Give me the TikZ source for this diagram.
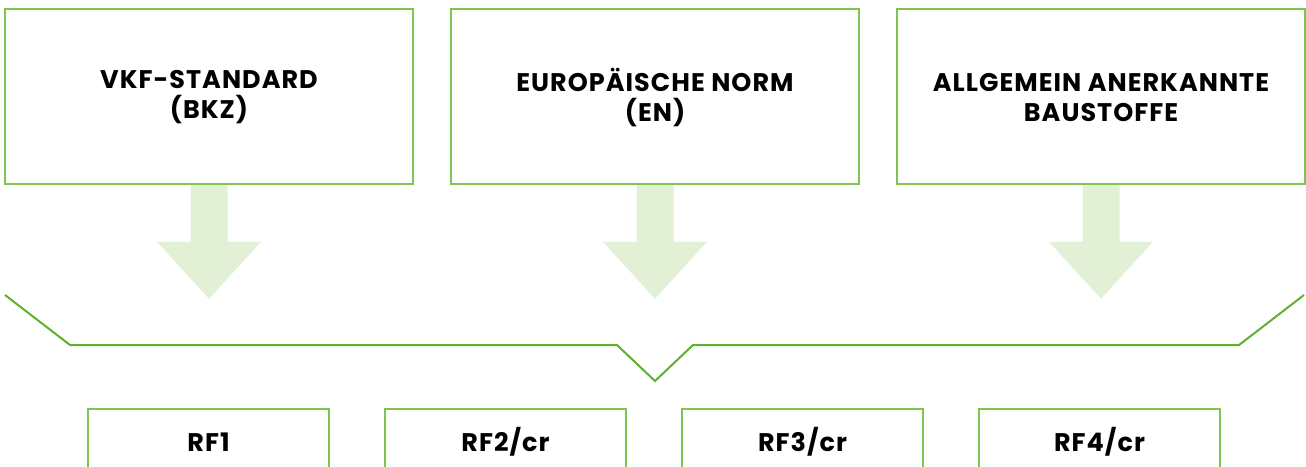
\documentclass[tikz,border=0pt]{standalone}
\usepackage{fontspec}
\setmainfont{Poppins}[LetterSpace=4]
\definecolor{boxgreen}{HTML}{7DC453}
\definecolor{linegreen}{HTML}{5DB12E}
\definecolor{arrowgreen}{HTML}{E2F0D5}
\begin{document}
\begin{tikzpicture}[x=1pt,y=-1pt,
  topbox/.style={draw=boxgreen,line width=1.2pt,minimum width=408pt,minimum height=175pt,inner sep=0pt},
  botbox/.style={draw=boxgreen,line width=1.2pt,minimum width=241pt,minimum height=64pt,inner sep=0pt},
  lbl/.style={font=\bfseries\fontsize{25.5}{30}\selectfont,align=center,text=black},
  bigarrow/.style={fill=arrowgreen},
  bracket/.style={draw=linegreen,line width=2pt,line join=miter}]
\useasboundingbox (0,0) rectangle (1306,466);
\clip (0,0) rectangle (1306,466);
\node[topbox] (b1) at (209,96.5) {};
\node[topbox] (b2) at (655,96.5) {};
\node[topbox] (b3) at (1101,96.5) {};
\node[lbl] (t1) at ([yshift=-1pt]b1.center) {VKF-STANDARD\\(BKZ)};
\node[lbl] (t2) at ([yshift=-1pt]b2.center) {EUROPÄISCHE NORM\\(EN)};
\node[lbl] (t3) at ([yshift=-1pt]b3.center) {ALLGEMEIN ANERKANNTE\\BAUSTOFFE};
\foreach \b in {b1,b2,b3}{
  \fill[bigarrow] ([xshift=-18.5pt,yshift=-0.6pt]\b.south) -- ++(0,56.6) -- ++(-33.5,0) -- ++(52,57) -- ++(52,-57) -- ++(-33.5,0) -- ++(0,-56.6) -- cycle;
}
\node[botbox] (r1) at (208.5,441) {};
\node[botbox] (r2) at (505.5,441) {};
\node[botbox] (r3) at (802.5,441) {};
\node[botbox] (r4) at (1099.5,441) {};
\node[lbl] (l1) at ([yshift=-1pt]r1.center) {RF1};
\node[lbl] (l2) at ([yshift=-1pt]r2.center) {RF2/cr};
\node[lbl] (l3) at ([yshift=-1pt]r3.center) {RF3/cr};
\node[lbl] (l4) at ([yshift=-1pt]r4.center) {RF4/cr};
\coordinate (p0) at (5,295);
\coordinate (p1) at (70,345);
\coordinate (p2) at (617,345);
\coordinate (p3) at (655,381);
\coordinate (p4) at (693,345);
\coordinate (p5) at (1239,345);
\coordinate (p6) at (1304,295);
\draw[bracket] (p0) -- (p1) -- (p2) -- (p3) -- (p4) -- (p5) -- (p6);
\end{tikzpicture}
\end{document}
